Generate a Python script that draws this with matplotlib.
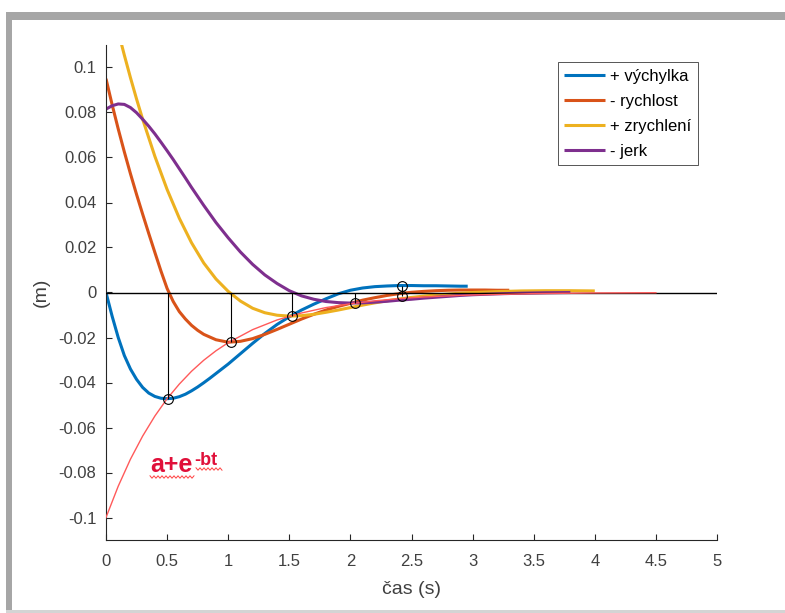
import numpy as np
import matplotlib
matplotlib.use("Agg")
import matplotlib.pyplot as plt
from matplotlib.patches import Rectangle
from matplotlib.lines import Line2D

plt.rcParams['font.family'] = ['Liberation Sans', 'DejaVu Sans']

# ── values (t in s, values in m) ──────────────────────────────────────────────
t_vych = [0, 0.05, 0.1, 0.15, 0.2, 0.25, 0.3, 0.35, 0.4, 0.45, 0.5, 0.55,
          0.6, 0.65, 0.7, 0.75, 0.8, 0.85, 0.9, 0.95, 1.0, 1.1, 1.2,
          1.3, 1.4, 1.5, 1.6, 1.7, 1.8, 1.9, 2.0, 2.1, 2.2, 2.3, 2.4, 2.5, 2.6,
          2.7, 2.8, 2.9, 2.96]
vychylka = [0, -0.0105, -0.0200, -0.0280, -0.0340, -0.0386, -0.0422, -0.0447,
            -0.0462, -0.0470, -0.0472, -0.0470, -0.0463, -0.0452, -0.0437,
            -0.0420, -0.0401, -0.0381, -0.0360, -0.0339, -0.0318, -0.0272,
            -0.0226, -0.0182, -0.0142, -0.0108, -0.0078, -0.0052, -0.0028,
            -0.0006, 0.0010, 0.0020, 0.0026, 0.0029, 0.0031, 0.0031, 0.0030,
            0.0030, 0.0029, 0.0028, 0.0028]

t_rych = [0, 0.05, 0.1, 0.15, 0.2, 0.25, 0.3, 0.35, 0.4, 0.45, 0.5, 0.55,
          0.6, 0.65, 0.7, 0.75, 0.8, 0.9, 1.0, 1.1, 1.2, 1.3, 1.4, 1.5, 1.6,
          1.7, 1.8, 1.9, 2.0, 2.1, 2.2, 2.3, 2.4, 2.5, 2.6, 2.7, 2.8, 2.9, 3.0,
          3.1, 3.2, 3.3]
rychlost = [0.095, 0.0835, 0.0727, 0.0625, 0.0528, 0.0436, 0.0348, 0.0262,
            0.0178, 0.0095, 0.0018, -0.0040,
            -0.0085, -0.0118, -0.0146, -0.0168, -0.0186, -0.0210, -0.0221,
            -0.0217, -0.0205, -0.0186, -0.0164, -0.0141, -0.0118, -0.0097,
            -0.0078, -0.0062, -0.0048, -0.0034, -0.0023, -0.0013, -0.0005,
            0.0001, 0.0005, 0.0008, 0.0010, 0.0011, 0.0011, 0.0011, 0.0010,
            0.0010]

t_zrych = [0, 0.05, 0.1, 0.15, 0.2, 0.25, 0.3, 0.4, 0.5, 0.6, 0.7, 0.8, 0.9,
           1.0, 1.1, 1.2, 1.3, 1.4, 1.5, 1.6, 1.7, 1.8, 1.9, 2.0, 2.1, 2.2,
           2.3, 2.4, 2.5, 2.6, 2.7, 2.8, 2.9, 3.0, 3.2, 3.4, 3.6, 3.8, 4.0]
zrychleni = [0.138, 0.127, 0.116, 0.1055, 0.0955, 0.0860,
             0.077, 0.0605, 0.0458, 0.0330, 0.0221, 0.0131, 0.0060, 0.0005,
             -0.0038, -0.0070, -0.0090, -0.0101, -0.0105, -0.0103, -0.0097,
             -0.0088, -0.0078, -0.0067, -0.0056, -0.0046, -0.0037, -0.0029,
             -0.0022, -0.0016, -0.0011, -0.0007, -0.0003, 0.0000,
             0.0004, 0.0007, 0.0008, 0.0008, 0.0007]

t_jerk = [0, 0.05, 0.1, 0.15, 0.2, 0.25, 0.3, 0.35, 0.4, 0.45, 0.5, 0.55,
          0.6, 0.65, 0.7, 0.8, 0.9, 1.0, 1.1, 1.2, 1.3, 1.4, 1.5, 1.6, 1.7,
          1.8, 1.9, 2.0, 2.1, 2.2, 2.3, 2.4, 2.5, 2.6, 2.7, 2.8, 2.9, 3.0,
          3.2, 3.4, 3.6, 3.8]
jerk = [0.0815, 0.0830, 0.0838, 0.0836, 0.0822, 0.0799, 0.0770, 0.0739,
        0.0705, 0.0668, 0.0630, 0.0591, 0.0550, 0.0509, 0.0467, 0.0387,
        0.0311, 0.0243, 0.0180, 0.0125, 0.0078, 0.0040, 0.0008, -0.0015,
        -0.0030, -0.0040, -0.0045, -0.0047, -0.0046, -0.0043, -0.0039,
        -0.0034, -0.0030, -0.0025, -0.0021, -0.0017, -0.0013, -0.0010,
        -0.0006, -0.0003, -0.0001, 0.0000]

# obálka a+e^-bt
t_obal = [0, 0.1, 0.2, 0.3, 0.4, 0.5, 0.6, 0.7, 0.8, 0.9, 1.0, 1.2, 1.4, 1.6,
          1.8, 2.0, 2.2, 2.4, 2.6, 2.8, 3.0, 3.5, 4.0, 4.5]
obalka = [-0.1000, -0.0861, -0.0741, -0.0638, -0.0549, -0.0472, -0.0407,
          -0.0350, -0.0301, -0.0259, -0.0223, -0.0165, -0.0122, -0.0091,
          -0.0067, -0.0050, -0.0037, -0.0027, -0.0020, -0.0015, -0.0011,
          -0.0005, -0.0002, -0.0001]

# nulová přímka, svislice a kroužky
zero_t = [0, 5]
zero_y = [0, 0]
svis_t = [0.51, 1.02, 1.52, 2.04, 2.42]
svis_od = [0, 0, 0, 0, 0.0031]
svis_do = [-0.0472, -0.0221, -0.0105, -0.0047, -0.0016]
kruh_t = [0.51, 1.02, 1.52, 2.04, 2.42, 2.42]
kruh_y = [-0.0472, -0.0221, -0.0105, -0.0047, 0.0031, -0.0016]

labels = ["+ výchylka", "- rychlost", "+ zrychlení", "- jerk"]
colors = ["#0072BD", "#D95319", "#EDB120", "#7E2F8E"]

# ── figure ────────────────────────────────────────────────────────────────────
W, H = 785, 613
fig = plt.figure(figsize=(W / 100, H / 100), dpi=100)
fig.patch.set_facecolor("white")

# okraj okna (šedý rámeček)
px = lambda x0, y0, w, h: (x0 / W, 1 - (y0 + h) / H, w / W, h / H)
for (x0, y0, w, h, c) in [(6, 12, 779, 8, "#a6a6a6"), (6, 12, 6, 601, "#a6a6a6"),
                          (6, 610, 779, 3, "#d4d4d4")]:
    l, b, ww, hh = px(x0, y0, w, h)
    fig.patches.append(Rectangle((l, b), ww, hh, transform=fig.transFigure,
                                 color=c, lw=0, zorder=0))

ax = fig.add_axes([106 / W, (H - 540) / H, 611 / W, 495 / H])
ax.set_xlim(0, 5)
ax.set_ylim(-0.11, 0.11)

series = [(t_vych, vychylka), (t_rych, rychlost), (t_zrych, zrychleni), (t_jerk, jerk)]
handles = []
for (tt, yy), lab, col in zip(series, labels, colors):
    h, = ax.plot(tt, yy, color=col, lw=2.2, label=lab, solid_capstyle="butt",
                 solid_joinstyle="round", zorder=2)
    handles.append(h)

ax.plot(zero_t, zero_y, color="black", lw=1.0, zorder=3)
ax.plot(t_obal, obalka, color="#ff5a5a", lw=1.0, zorder=4)
ax.vlines(svis_t, svis_od, svis_do, color="black", lw=0.8, zorder=4)
ax.plot(kruh_t, kruh_y, "o", ms=7, mfc="none", mec="black", mew=0.8, zorder=5)

ax.set_xticks(np.arange(0, 5.01, 0.5))
ax.set_xticklabels(["0", "0.5", "1", "1.5", "2", "2.5", "3", "3.5", "4", "4.5", "5"])
ax.set_yticks(np.arange(-0.1, 0.1001, 0.02))
ax.set_yticklabels(["-0.1", "-0.08", "-0.06", "-0.04", "-0.02", "0",
                    "0.02", "0.04", "0.06", "0.08", "0.1"])
ax.tick_params(direction="in", length=4, width=0.8, colors="#262626",
               labelcolor="#404040", labelsize=12)
ax.tick_params(axis="x", pad=10)
ax.tick_params(axis="y", pad=7)
for s in ["top", "right"]:
    ax.spines[s].set_visible(False)
for s in ["left", "bottom"]:
    ax.spines[s].set_color("#262626")
    ax.spines[s].set_linewidth(0.8)

ax.set_xlabel("čas (s)", fontsize=14, color="#404040", labelpad=9)
ax.set_ylabel("(m)", fontsize=14, color="#404040", labelpad=6)

leg = ax.legend(handles=handles, loc="upper right",
                bbox_to_anchor=((698 - 106) / 611, (540 - 62) / 495),
                borderaxespad=0, fontsize=12, handlelength=2.45,
                handletextpad=0.3, labelspacing=0.6, borderpad=0.4,
                fancybox=False, framealpha=1)
leg.get_frame().set_edgecolor("#3a3a3a")
leg.get_frame().set_linewidth(0.6)

# popisek a+e^-bt s vlnkou kontroly pravopisu
ax.text(0.36, -0.0800, "a+e", color="#e0103a", fontsize=18, fontweight="bold",
        ha="left", va="baseline", zorder=6)
ax.text(0.725, -0.0768, "-bt", color="#e0103a", fontsize=13, fontweight="bold",
        ha="left", va="baseline", zorder=6)
for x0, x1, yy in [(150, 194, 477), (196, 222, 469)]:
    xs = np.arange(x0, x1 + 0.1, 2.0)
    ys = yy + np.where(np.arange(len(xs)) % 2 == 0, -1.2, 1.2)
    fig.add_artist(Line2D(xs / W, 1 - ys / H, transform=fig.transFigure,
                          color="#ff4040", lw=0.7))

fig.savefig("out.png", dpi=100)
